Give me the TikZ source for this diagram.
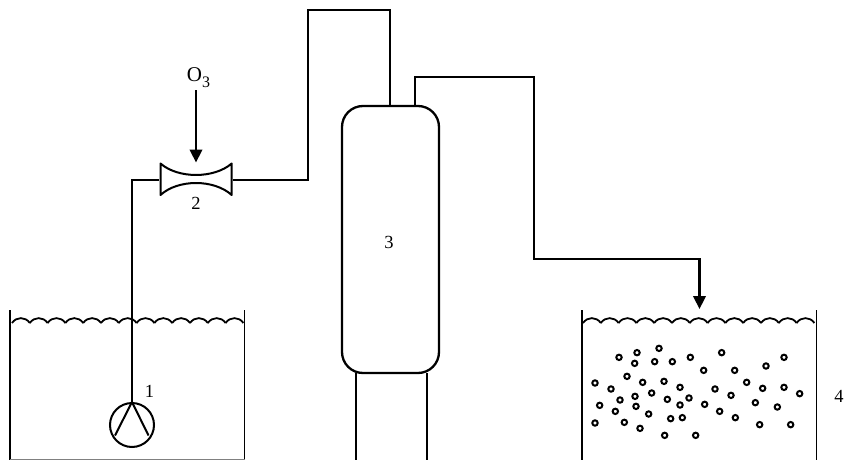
\documentclass[tikz,border=0pt]{standalone}
\usepackage{fontspec}
\setmainfont{Liberation Serif}
\usetikzlibrary{arrows.meta}
\tikzset{
  line/.style={draw=black,line width=2.3pt,line join=miter},
  thinline/.style={draw=black,line width=1.8pt},
  flow/.style={line,-{Triangle[length=13pt,width=12.5pt]}},
  lbl/.style={inner sep=0pt,font=\fontsize{18.5}{18.5}\selectfont},
  bubble/.style={draw=black,line width=2pt,circle,minimum size=5.4pt,inner sep=0pt},
  surface/.style={draw=black,line width=1.8pt},
}
\newcommand{\waves}[3]{%
  \foreach \k in {1,...,13}{%
    \pgfmathsetmacro{\xa}{#1+(\k-1)*#2}%
    \pgfmathsetmacro{\xb}{#1+\k*#2}%
    \draw[surface] (\xa,#3) .. controls (\xa+0.25*#2,#3-6.5) and (\xb-0.25*#2,#3-6.5) .. (\xb,#3);%
  }}
\begin{document}
\begin{tikzpicture}[x=1pt,y=-1pt]
\useasboundingbox (0,0) rectangle (846,460);
% column
\node[line,rounded corners=21pt,minimum width=97pt,minimum height=267pt,inner sep=0pt] (column) at (390.5,239.5) {};
\node[lbl] (n3) at (389,242) {3};
\coordinate (legL) at (356,373); \coordinate (legLb) at (356,460);
\coordinate (legR) at (427,373); \coordinate (legRb) at (427,460);
\draw[thinline] (legL) -- (legLb);
\draw[thinline] (legR) -- (legRb);
% left tank
\coordinate (t1a) at (10,310); \coordinate (t1b) at (10,459.5);
\coordinate (t1c) at (244.5,459.5); \coordinate (t1d) at (244.5,310);
\draw[thinline] (t1a) -- (t1b);
\draw[thinline] (t1d) -- (t1c);
\draw[draw=black!50,line width=.8pt] (t1b) -- (t1c);
\waves{12}{17.8}{323}
% pump
\node[draw=black,line width=2pt,circle,minimum size=44pt,inner sep=0pt] (pump) at (132,425) {};
\coordinate (pl) at (115,435.5); \coordinate (pr) at (148.5,435.5);
\draw[line width=2pt] (pl) -- (pump.north) -- (pr);
\node[lbl] (n1) at (149.5,391) {1};
% venturi
\coordinate (vlt) at (160.5,163.5); \coordinate (vlb) at (160.5,195);
\coordinate (vrt) at (231.7,163.5); \coordinate (vrb) at (231.7,195);
\draw[line,line width=2pt,line join=round] (vlt) .. controls (178,178.8) and (214,178.8) .. (vrt) -- (vrb)
  .. controls (214,179) and (178,179) .. (vlb) -- cycle;
\coordinate (vl) at (159,180); \coordinate (vr) at (233,180);
\node[lbl] (n2) at (196,203) {2};
% pipes
\coordinate (c1) at (132,180);
\draw[thinline] (pump.north) -- (c1) -- (vl);
\coordinate (c2) at (308,180); \coordinate (c3) at (308,10); \coordinate (c4) at (390,10); \coordinate (c5) at (390,106);
\draw[line,line width=2pt] (vr) -- (c2) -- (c3) -- (c4) -- (c5);
\coordinate (d1) at (415,106); \coordinate (d2) at (415,77); \coordinate (d3) at (534,77);
\coordinate (d4) at (534,259); \coordinate (d5) at (699.5,259); \coordinate (d6) at (699.5,309);
\draw[flow] (d1) -- (d2) -- (d3) -- (d4) -- (d5) -- (d6);
% O3
\node[lbl,font=\fontsize{21}{21}\selectfont] (o3) at (198.5,78) {O\raisebox{-6pt}{\fontsize{16}{16}\selectfont 3}};
\coordinate (o3t) at (196,90); \coordinate (o3v) at (196,162.5);
\draw[flow] (o3t) -- (o3v);
% right tank
\coordinate (t2a) at (582,310); \coordinate (t2b) at (582,460);
\coordinate (t2c) at (816.5,310); \coordinate (t2d) at (816.5,460);
\draw[thinline] (t2a) -- (t2b);
\draw[thinline] (t2c) -- (t2d);
\waves{583}{17.8}{323}
\node[lbl] (n4) at (839,396) {4};
% bubbles
\foreach[count=\i] \x/\y in {147/202,201/188,267/175,194/220,254/215,307/215,361/202,455/188,642/202,401/241,494/241,588/228,171/259,75/279,218/277,282/274,123/297,330/292,435/297,530/277,578/295,642/292,245/309,195/319,483/316,689/311,150/330,292/328,357/324,89/346,198/349,330/345,404/343,556/338,622/351,136/364,236/372,449/364,75/399,163/397,302/386,337/383,496/383,210/415,569/404,662/404,284/436,377/436}{
  \node[bubble] (b\i) at ({570+\x/3},{290+\y/3}) {};
}
\end{tikzpicture}
\end{document}
